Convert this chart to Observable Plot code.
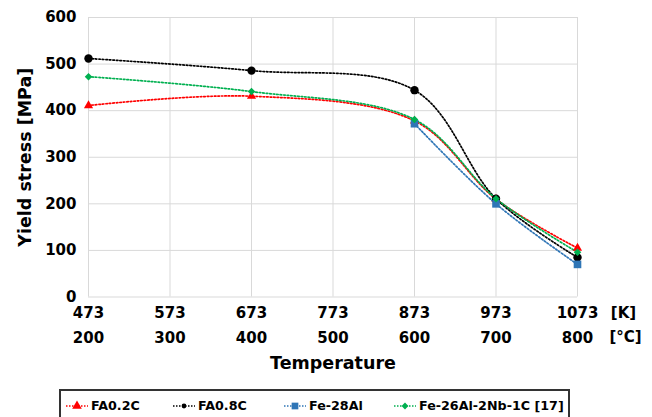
<!DOCTYPE html>
<html><head><meta charset="utf-8">
<script src="https://cdn.jsdelivr.net/npm/d3@7"></script>
<script src="https://cdn.jsdelivr.net/npm/@observablehq/plot@0.6"></script>
<style>
body{margin:0;background:#fff;font-family:"DejaVu Sans",sans-serif;}
#chart{position:relative;width:652px;height:417px;overflow:hidden;background:#fff}
#chart svg text{font-family:"DejaVu Sans",sans-serif;font-weight:bold;fill:#000}
.legend{position:absolute;left:59px;top:389px;width:511px;height:40px;border:2px solid #333;box-sizing:border-box;font-weight:bold;font-size:12.7px;color:#000}
.item{position:absolute;top:7px;display:flex;align-items:center;gap:2px;white-space:nowrap}
.item svg{display:block}
</style></head>
<body><div id="chart"></div>
<script>
const tempK = [473, 673, 873, 973, 1073];
const kTicks = [473, 573, 673, 773, 873, 973, 1073];
const cTicks = [200, 300, 400, 500, 600, 700, 800];
const yTicks = [0, 100, 200, 300, 400, 500, 600];
const seriesNames = ["FA0.2C", "FA0.8C", "Fe-28Al", "Fe-26Al-2Nb-1C [17]"];
const seriesColors = ["#ff0000", "#000000", "#2e75b6", "#00b050"];
const seriesSymbols = ["triangle", "circle", "square", "diamond2"];
const fa02c = [411, 431, 378, 210, 105];
const fa08c = [512, 486, 444, 211, 85];
const fe28alK = [873, 973, 1073];
const fe28al = [372, 200, 70];
const fe26al = [473, 441, 381, 211, 96];
const unitLabels = ["[K]", "[°C]"];
const xTitle = "Temperature";
const yTitle = "Yield stress [MPa]";
const legendLefts = [4, 111, 222, 332];

const toRows = (xs, ys) => xs.map((x, i) => ({x, y: ys[i]}));
const data = [toRows(tempK, fa02c), toRows(tempK, fa08c), toRows(fe28alK, fe28al), toRows(tempK, fe26al)];
const radii = [3.4, 4.2, 4.3, 3.4];

const marks = [
  Plot.gridX(kTicks, {stroke: "#d9d9d9", strokeOpacity: 1, strokeWidth: 1}),
  Plot.gridY(yTicks, {stroke: "#d9d9d9", strokeOpacity: 1, strokeWidth: 1}),
  Plot.axisX(kTicks, {tickSize: 0, tickPadding: 10, fontSize: 15, label: null, tickFormat: d => String(d)}),
  Plot.axisX(kTicks, {tickSize: 0, tickPadding: 35, fontSize: 15, label: null, tickFormat: d => String(cTicks[kTicks.indexOf(d)])}),
  Plot.axisY(yTicks, {tickSize: 0, tickPadding: 12, fontSize: 15, label: null, tickFormat: d => String(d)}),
  Plot.text([unitLabels[0]], {x: () => 1073, frameAnchor: "bottom", dy: 16, dx: 46, fontSize: 15, lineAnchor: "middle", textAnchor: "middle"}),
  Plot.text([unitLabels[1]], {x: () => 1073, frameAnchor: "bottom", dy: 40.5, dx: 48, fontSize: 15, lineAnchor: "middle", textAnchor: "middle"}),
  Plot.text([xTitle], {frameAnchor: "bottom", dy: 66.5, fontSize: 17.5, lineAnchor: "middle", textAnchor: "middle"}),
  Plot.text([yTitle], {frameAnchor: "left", dx: -63, rotate: -90, fontSize: 17.5, lineAnchor: "middle", textAnchor: "middle"})
];
data.forEach((rows, i) => {
  marks.push(Plot.line(rows, {x: "x", y: "y", curve: "catmull-rom", stroke: seriesColors[i], strokeWidth: 1.7, strokeDasharray: "1.6 1.9"}));
});
data.forEach((rows, i) => {
  marks.push(Plot.dot(rows, {x: "x", y: "y", symbol: () => seriesSymbols[i], r: radii[i], fill: seriesColors[i], stroke: "none"}));
});

const chart = Plot.plot({
  width: 652, height: 385,
  marginLeft: 88, marginRight: 75, marginTop: 17, marginBottom: 88.5,
  x: {domain: [473, 1073]},
  y: {domain: [0, 600]},
  symbol: {type: "identity"},
  marks
});
const root = document.getElementById("chart");
root.appendChild(chart);

const legend = document.createElement("div");
legend.className = "legend";
const symMap = {triangle: d3.symbolTriangle, circle: d3.symbolCircle, square: d3.symbolSquare, diamond2: d3.symbolDiamond2};
seriesNames.forEach((name, i) => {
  const item = document.createElement("div");
  item.className = "item";
  item.style.left = legendLefts[i] + "px";
  const sw = d3.create("svg").attr("width", 24).attr("height", 12);
  sw.append("line").attr("x1", 1).attr("x2", 23).attr("y1", 6).attr("y2", 6)
    .attr("stroke", seriesColors[i]).attr("stroke-width", 1.5).attr("stroke-dasharray", "1.5 1.5");
  const sz = [40, 18, 45, 30][i];
  sw.append("path").attr("transform", "translate(12,6)").attr("d", d3.symbol(symMap[seriesSymbols[i]], sz)()).attr("fill", seriesColors[i]);
  item.appendChild(sw.node());
  const t = document.createElement("span");
  t.textContent = name;
  item.appendChild(t);
  legend.appendChild(item);
});
root.appendChild(legend);
</script></body></html>
